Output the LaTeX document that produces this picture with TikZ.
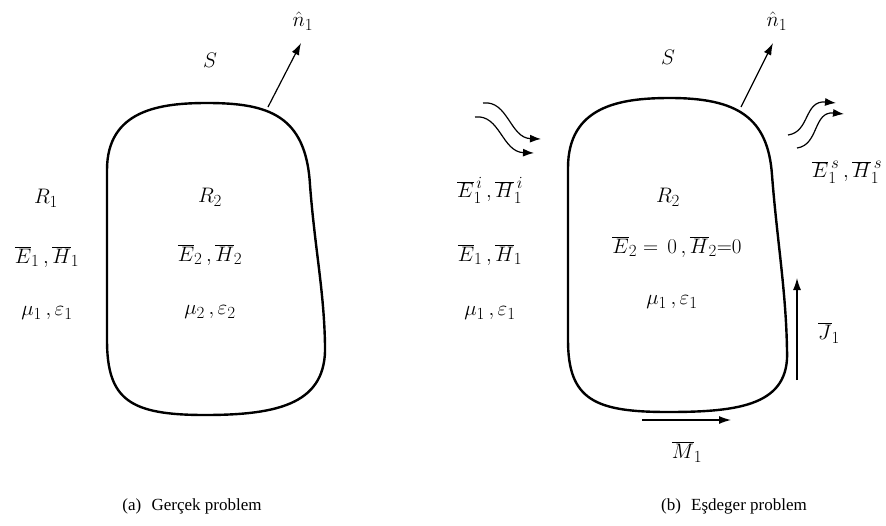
\documentclass[tikz,border=0pt]{standalone}
\usepackage{fix-cm}
\usepackage{fontspec}
\newfontfamily\capfont{Liberation Serif}
\DeclareMathSizes{21}{21}{17}{13}
\usetikzlibrary{arrows.meta}
\tikzset{
  body/.style={line width=2.4pt, line join=round},
  lbl/.style={inner sep=0pt, font=\fontsize{21}{25}\selectfont},
  capt/.style={inner sep=0pt, font=\capfont\fontsize{17}{20}\selectfont},
  arr/.style={line width=1.2pt, -{Latex[length=12pt,width=8pt]}},
  wav/.style={line width=1.2pt, -{Latex[length=11pt,width=8pt]}}
}
\newcommand{\vb}[1]{\overline{#1}}
\begin{document}
\begin{tikzpicture}[x=1pt,y=-1pt]
\useasboundingbox (0,0) rectangle (886,525);

% ---------- (a) ----------
\draw[body] (107,300) -- (107,170)
  .. controls (107,110) and (160,103) .. (207,103)
  .. controls (268,103) and (306,115) .. (310,185)
  .. controls (315,250) and (324,290) .. (325,345)
  .. controls (327,403) and (280,415) .. (205,415)
  .. controls (130,415) and (107,400) .. (107,340) -- cycle;
\coordinate (na) at (268,107);
\coordinate (nta) at (301,43);
\draw[arr] (na) -- (nta);
\node[lbl] (nhata) at (303,21) {$\hat{n}_1$};
\node[lbl] (Sa) at (210,60) {$S$};
\node[lbl] (R1a) at (46,198) {$R_1$};
\node[lbl] (EH1a) at (47,257) {$\vb{E}_1\,,\vb{H}_1$};
\node[lbl] (me1a) at (47,313) {$\mu_1\,,\varepsilon_1$};
\node[lbl] (R2a) at (210,197) {$R_2$};
\node[lbl] (EH2a) at (210,255) {$\vb{E}_2\,,\vb{H}_2$};
\node[lbl] (me2a) at (210,312) {$\mu_2\,,\varepsilon_2$};
\node[capt] (capa) at (192,506) {(a)\hspace{0.6em}Gerçek problem};

% ---------- (b) ----------
\draw[body] (568,300) -- (568,168)
  .. controls (568,106) and (620,98) .. (670,98)
  .. controls (738,98) and (768,118) .. (772,175)
  .. controls (777,240) and (786,290) .. (787,350)
  .. controls (790,405) and (740,412) .. (668,412)
  .. controls (595,412) and (568,400) .. (568,340) -- cycle;
\coordinate (nb) at (741,107);
\coordinate (ntb) at (773,43);
\draw[arr] (nb) -- (ntb);
\node[lbl] (nhatb) at (777,21) {$\hat{n}_1$};
\node[lbl] (Sb) at (668,57) {$S$};

% incident waves
\coordinate (i1s) at (483,103); \coordinate (i1e) at (541,139);
\coordinate (i2s) at (475,117); \coordinate (i2e) at (534,153);
\draw[wav] (i1s) .. controls (508,100) and (510,138) .. (i1e);
\draw[wav] (i2s) .. controls (500,114) and (502,152) .. (i2e);
% scattered waves
\coordinate (s1s) at (788,135); \coordinate (s1e) at (836,103);
\coordinate (s2s) at (797,148); \coordinate (s2e) at (844,114);
\draw[wav] (s1s) .. controls (810,132) and (804,100) .. (s1e);
\draw[wav] (s2s) .. controls (819,145) and (813,111) .. (s2e);

\node[lbl] (EHi) at (490,190) {$\vb{E}_1^{\,i}\,,\vb{H}_1^{\,i}$};
\node[lbl] (EH1b) at (490,255) {$\vb{E}_1\,,\vb{H}_1$};
\node[lbl] (me1b) at (490,313) {$\mu_1\,,\varepsilon_1$};
\node[lbl] (EHs) at (847,172) {$\vb{E}_1^{\,s}\,,\vb{H}_1^{\,s}$};

\node[lbl] (R2b) at (668,197) {$R_2$};
\node[lbl] (EH2b) at (677,247) {$\vb{E}_2=\,0\,,\vb{H}_2{=}0$};
\node[lbl] (me1in) at (672,302) {$\mu_1\,,\varepsilon_1$};

% surface currents
\coordinate (js) at (797,380); \coordinate (je) at (797,278);
\draw[arr] (js) -- (je);
\node[lbl] (Jl) at (829,333) {$\overline{J}_1$};
\coordinate (ms) at (642,420); \coordinate (me) at (731,420);
\draw[arr] (ms) -- (me);
\node[lbl] (Ml) at (687,452) {$\vb{M}_1$};

\node[capt] (capb) at (734,506) {(b)\hspace{0.6em}Eşdeger problem};
\end{tikzpicture}
\end{document}
